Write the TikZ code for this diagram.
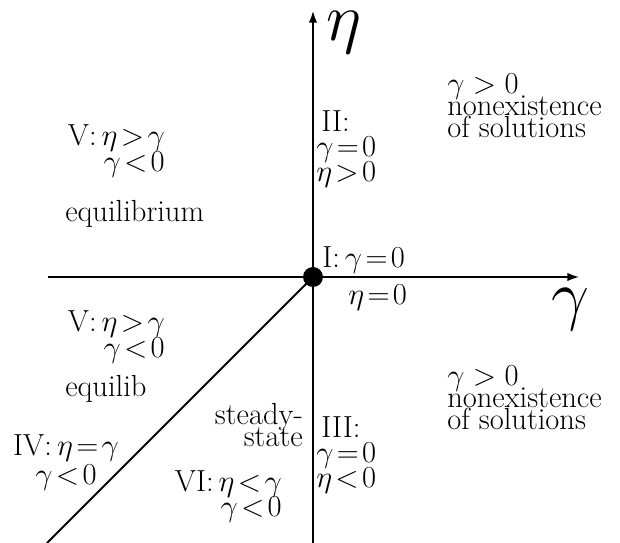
\RequirePackage{fix-cm}
\documentclass[tikz,border=0pt]{standalone}
\usepackage{amsmath, amssymb}
\usepackage{xcolor}
\usepackage{tikz}
\usetikzlibrary{arrows.meta}

\tikzset{
  region/.style={inner sep=0pt, font=\fontsize{21.7}{16}\selectfont},
  axislabel/.style={inner sep=0pt, font=\fontsize{48}{50}\selectfont},
}

\begin{document}
\lineskiplimit=-50pt
\begin{tikzpicture}[>={Latex[length=9pt,width=6pt]}]
				\useasboundingbox (-7.825,-6.65) rectangle (7.675,6.925);
				\coordinate (xl) at (-6.625,0);
				\coordinate (xr) at (6.675,0);
				\coordinate (yb) at (0,-6.65);
				\coordinate (yt) at (0,6.675);
				\coordinate (dl) at (-6.65,-6.65);
				\draw[->, line width=2.1pt] (xl) -- (xr);
				\draw[->, line width=2.1pt] (yb) -- (yt);
				\node[circle, fill, inner sep=0pt, minimum size=0.5cm] (O) at (0,0) {};
				\draw[line width=1.4pt] (O.center) -- (dl);
				\node[axislabel] (eta) at (0.775,6.1) {$\eta$};
				\node[axislabel] (gam) at (6.425,-0.825) {$\gamma$};
				% upper half (base = last line)
				\node[region, anchor=base east, align=right] (V1) at (-3.7,2.625) {V:$\,\eta\!>\!\gamma$\\[2.9pt] $\gamma\!<\!0$};
				\node[region, anchor=base west] (eq1) at (-6.2,1.375) {equilibrium};
				\node[region, anchor=base west, align=left] (II) at (0.075,2.375) {\,II:\\[1.8pt] $\gamma\!=\!0$\\[1.8pt] $\eta\!>\!0$};
				\node[region, anchor=base west, align=left] (UR) at (3.35,3.475) {$\gamma > 0$\\ nonexistence\\ of solutions};
				\node[region, anchor=base west] (I) at (0.225,0.225) {I:$\,\gamma\!=\!0$};
				\node[region, anchor=base west] (eta0) at (0.875,-0.7) {$\eta\!=\!0$};
				% lower half
				\node[region, anchor=base east, align=right] (V2) at (-3.7,-2.025) {V:$\,\eta\!>\!\gamma$\\[2.9pt] $\gamma\!<\!0$};
				\node[region, anchor=base west] (eq2) at (-6.2,-3.0) {equilib};
				\node[region, anchor=base east, align=right] (st) at (-0.25,-4.25) {steady-\\ state};
				\node[region, anchor=base, align=center] (IV) at (-6.175,-5.2) {IV:$\,\eta\!=\!\gamma$\\[5.3pt] $\gamma\!<\!0$};
				\node[region, anchor=base east, align=right] (VI) at (-0.775,-6.0) {VI:$\,\eta\!<\!\gamma$\\[1.8pt] $\gamma\!<\!0$};
				\node[region, anchor=base west, align=left] (III) at (0.075,-5.275) {\,III:\\[1.8pt] $\gamma\!=\!0$\\[1.8pt] $\eta\!<\!0$};
				\node[region, anchor=base west, align=left] (LR) at (3.35,-3.825) {$\gamma > 0$\\ nonexistence\\ of solutions};
			\end{tikzpicture}
\end{document}
